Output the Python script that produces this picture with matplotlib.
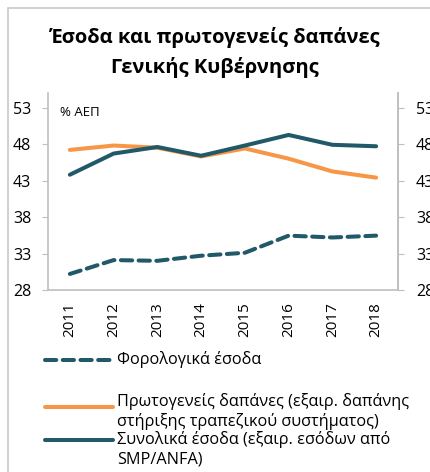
import matplotlib.pyplot as plt
from matplotlib.lines import Line2D
from matplotlib.patches import Rectangle

plt.rcParams['font.family'] = ['Open Sans', 'DejaVu Sans']

years = ['2011', '2012', '2013', '2014', '2015', '2016', '2017', '2018']
tax_rev = [30.2, 32.1, 32.0, 32.7, 33.1, 35.45, 35.2, 35.45]
prim_exp = [47.2, 47.8, 47.5, 46.3, 47.4, 46.0, 44.25, 43.4]
total_rev = [43.8, 46.7, 47.6, 46.4, 47.8, 49.25, 47.9, 47.7]
yticks = [28, 33, 38, 43, 48, 53]

teal = '#215968'
orange = '#F79646'
grey = '#BFBFBF'

fig = plt.figure(figsize=(4.31, 4.72), dpi=100)
# outer frame of the chart box
fig.add_artist(Rectangle((8 / 431, -0.1), 1.2, 1 - 8 / 472 + 0.1, transform=fig.transFigure,
                         fill=False, edgecolor='#C8C8C8', lw=1.2))

ax = fig.add_axes([48 / 431, 182 / 472, 350 / 431, 197 / 472])
x = list(range(len(years)))
ax.plot(x, tax_rev, color=teal, lw=2.9, ls=(0, (2.8, 1.6)), dash_capstyle='round', solid_capstyle='round')
ax.plot(x, prim_exp, color=orange, lw=2.9, solid_capstyle='round')
ax.plot(x, total_rev, color=teal, lw=2.9, solid_capstyle='round')

ax.set_xlim(-0.5, 7.5)
ax.set_ylim(28, 55)
ax.set_yticks(yticks)
ax.set_xticks(x)
ax.set_xticklabels(years, rotation=90, fontsize=11)
ax.tick_params(axis='x', length=0, pad=9)
ax.tick_params(axis='y', length=4, color=grey, labelsize=11.5, pad=8)
ax.spines['top'].set_visible(False)
for s in ['left', 'right', 'bottom']:
    ax.spines[s].set_color(grey)
    ax.spines[s].set_linewidth(1.2)

ax2 = ax.twinx()
ax2.set_ylim(28, 55)
ax2.set_yticks(yticks)
ax2.tick_params(axis='y', length=4, color=grey, labelsize=11.5, pad=9)
for s in ['top', 'left', 'bottom']:
    ax2.spines[s].set_visible(False)
ax2.spines['right'].set_color(grey)
ax2.spines['right'].set_linewidth(1.2)

ax.text(0.034, 0.90, '% ΑΕΠ', transform=ax.transAxes, fontsize=9.5, va='center')

fig.text(0.499, 1 - 38 / 472, 'Έσοδα και πρωτογενείς δαπάνες', ha='center', va='center',
         fontsize=14.5, fontweight='bold')
fig.text(0.499, 1 - 67 / 472, 'Γενικής Κυβέρνησης', ha='center', va='center',
         fontsize=14.5, fontweight='bold')

# legend drawn by hand so that the handle sits on the first text line
leg = [
    (360, dict(color=teal, ls=(0, (2.8, 1.6)), dash_capstyle='round'), ['Φορολογικά έσοδα']),
    (407, dict(color=orange, solid_capstyle='round'),
     ['Πρωτογενείς δαπάνες (εξαιρ. δαπάνης', 'στήριξης τραπεζικού συστήματος)']),
    (440, dict(color=teal, solid_capstyle='round'), ['Συνολικά έσοδα (εξαιρ. εσόδων από', 'SMP/ANFA)']),
]
for ypx, style, lines in leg:
    yf = 1 - ypx / 472
    fig.add_artist(Line2D([45 / 431, 113 / 431], [yf, yf], transform=fig.transFigure, lw=2.9, **style))
    top = ypx - 5 if len(lines) > 1 and ypx == 407 else ypx
    for i, t in enumerate(lines):
        fig.text(117 / 431, 1 - (top + 19.5 * i) / 472, t, fontsize=11.7, va='center')

fig.savefig('out.png', dpi=100)
